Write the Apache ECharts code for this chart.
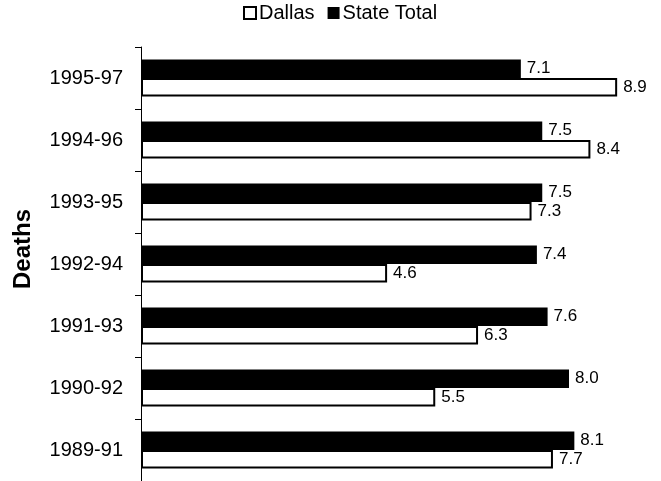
<!DOCTYPE html>
<html>
<head>
<meta charset="utf-8">
<script src="https://cdn.jsdelivr.net/npm/echarts@6/dist/echarts.min.js"></script>
<style>
html,body{margin:0;padding:0;background:#fff;}
#chart{width:661px;height:481px;}
</style>
</head>
<body>
<div id="chart"></div>
<script>
const categories = ['1989-91', '1990-92', '1991-93', '1992-94', '1993-95', '1994-96', '1995-97'];
const dallas = [7.7, 5.5, 6.3, 4.6, 7.3, 8.4, 8.9];
const stateTotal = [8.1, 8.0, 7.6, 7.4, 7.5, 7.5, 7.1];
const seriesNames = ['Dallas', 'State Total'];
const axisTitle = 'Deaths';

const FONT = '"Liberation Sans", Arial, sans-serif';
const chart = echarts.init(document.getElementById('chart'), null, {renderer: 'canvas'});
const labelCfg = {
  show: true,
  position: 'right',
  distance: 6,
  color: '#000',
  fontFamily: FONT,
  fontSize: 17,
  formatter: p => p.value.toFixed(1)
};
chart.setOption({
  animation: false,
  backgroundColor: '#fff',
  legend: {
    top: 3,
    left: 243,
    padding: 0,
    itemWidth: 12,
    itemHeight: 12,
    itemGap: 13,
    textStyle: {fontFamily: FONT, fontSize: 20, color: '#000', padding: [0, 0, 0, -2]},
    data: [
      {name: seriesNames[0], icon: 'rect', itemStyle: {color: '#fff', borderColor: '#000', borderWidth: 2}},
      {name: seriesNames[1], icon: 'rect', itemStyle: {color: '#000'}}
    ]
  },
  grid: {left: 141, top: 47, right: 38.5, bottom: -2, containLabel: false},
  xAxis: {
    type: 'value', min: 0, max: 9, show: false
  },
  yAxis: {
    type: 'category',
    data: categories,
    axisLine: {lineStyle: {color: '#000', width: 1}},
    axisTick: {show: true, length: 6, lineStyle: {color: '#000'}},
    axisLabel: {color: '#000', fontFamily: FONT, fontSize: 20, margin: 18}
  },
  graphic: [{
    type: 'text',
    x: 23, y: 249,
    rotation: Math.PI / 2,
    style: {
      text: axisTitle,
      fontFamily: FONT, fontSize: 24, fontWeight: 'bold', fill: '#000',
      align: 'center', verticalAlign: 'middle'
    }
  }],
  series: [
    {
      name: seriesNames[1], type: 'bar', data: stateTotal,
      barGap: '0%', barCategoryGap: '40%',
      itemStyle: {color: '#000'},
      label: labelCfg
    },
    {
      name: seriesNames[0], type: 'bar', data: dallas,
      barGap: '0%', barCategoryGap: '40%',
      itemStyle: {color: '#fff', borderColor: '#000', borderWidth: 2},
      label: labelCfg
    }
  ]
});
</script>
</body>
</html>
